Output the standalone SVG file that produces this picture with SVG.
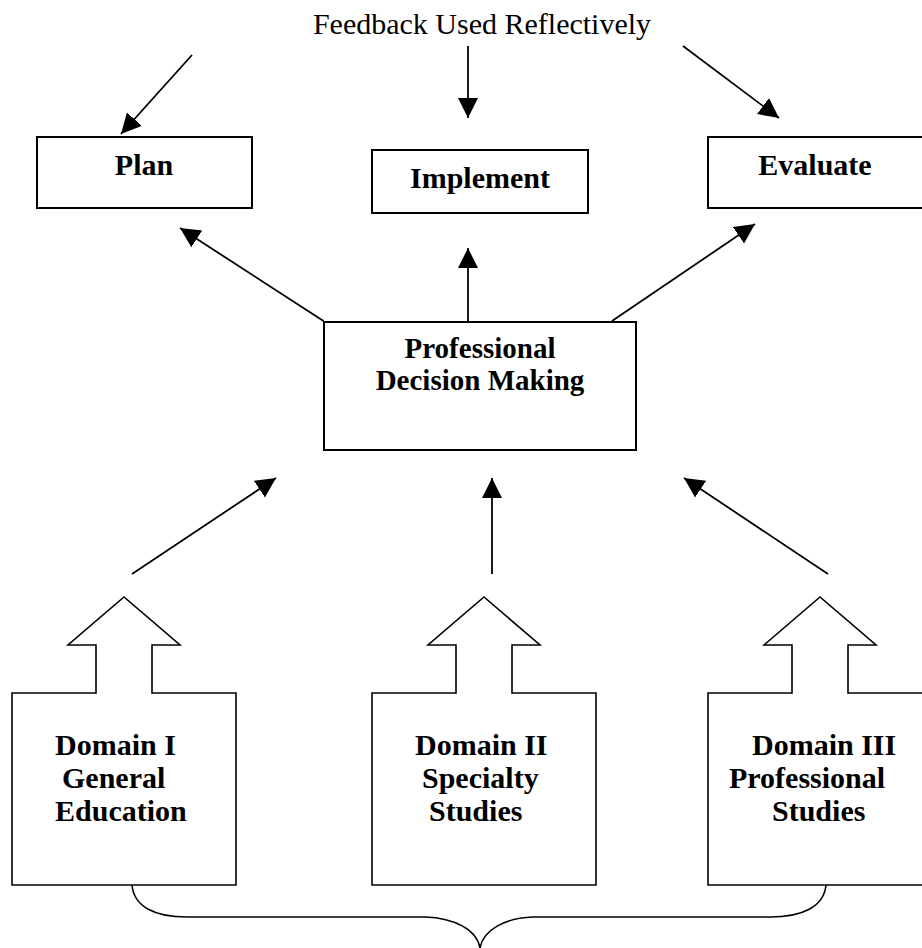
<svg xmlns="http://www.w3.org/2000/svg" width="922" height="948" viewBox="0 0 922 948">
<style>
.box{fill:#fff;stroke:#000;stroke-width:2}
.dom{fill:#fff;stroke:#000;stroke-width:1.6;stroke-linejoin:miter}
.ln{fill:none;stroke:#000;stroke-width:1.8}
.brace{fill:none;stroke:#000;stroke-width:1.6}
.t{font-family:"Liberation Serif","Times New Roman",serif;font-size:30px;fill:#000}
.b{font-family:"Liberation Serif","Times New Roman",serif;font-size:30px;font-weight:bold;fill:#000}
.m{text-anchor:middle}
</style>
<defs>
<marker id="ah" markerUnits="userSpaceOnUse" markerWidth="22" markerHeight="22" refX="20" refY="10" orient="auto">
<path d="M0,0 L20,10 L0,20 Z" fill="#000"/>
</marker>
</defs>
<rect width="922" height="948" fill="#fff"/>
<g id="title">
<text class="t m" x="482" y="34">Feedback Used Reflectively</text>
</g>
<g id="plan">
<rect class="box" x="37" y="137" width="215" height="71"/>
<text class="b m" x="144" y="175">Plan</text>
</g>
<g id="implement">
<rect class="box" x="372" y="150" width="216" height="63"/>
<text class="b m" x="480" y="188">Implement</text>
</g>
<g id="evaluate">
<rect class="box" x="708" y="137" width="216" height="71"/>
<text class="b m" x="815" y="175">Evaluate</text>
</g>
<g id="pdm">
<rect class="box" x="324" y="322" width="312" height="128"/>
<text class="b m" x="480" y="358" style="font-size:29px">Professional</text>
<text class="b m" x="480" y="390" style="font-size:29px">Decision Making</text>
</g>
<g id="domain1">
<path class="dom" d="M12,693 L96,693 L96,645 L68,645 L124,597 L180,645 L152,645 L152,693 L236,693 L236,885 L12,885 Z"/>
<text class="b" x="55" y="755">Domain I</text>
<text class="b" x="62" y="788">General</text>
<text class="b" x="55" y="821">Education</text>
</g>
<g id="domain2">
<path class="dom" d="M372,693 L456,693 L456,645 L428,645 L484,597 L540,645 L512,645 L512,693 L596,693 L596,885 L372,885 Z"/>
<text class="b" x="415" y="755">Domain II</text>
<text class="b" x="422" y="788">Specialty</text>
<text class="b" x="429" y="821">Studies</text>
</g>
<g id="domain3">
<path class="dom" d="M708,693 L792,693 L792,645 L764,645 L820,597 L876,645 L848,645 L848,693 L932,693 L932,885 L708,885 Z"/>
<text class="b" x="752" y="755">Domain III</text>
<text class="b" x="729" y="788">Professional</text>
<text class="b" x="772" y="821">Studies</text>
</g>
<g id="connectors">
<line class="ln" x1="192" y1="55" x2="121" y2="134" marker-end="url(#ah)"/>
<line class="ln" x1="468" y1="46" x2="468" y2="118" marker-end="url(#ah)"/>
<line class="ln" x1="683" y1="46" x2="779" y2="118" marker-end="url(#ah)"/>
<line class="ln" x1="323.5" y1="321" x2="180" y2="228" marker-end="url(#ah)"/>
<line class="ln" x1="468" y1="321" x2="468" y2="248" marker-end="url(#ah)"/>
<line class="ln" x1="612" y1="321" x2="755" y2="224" marker-end="url(#ah)"/>
<line class="ln" x1="132" y1="574" x2="276" y2="478" marker-end="url(#ah)"/>
<line class="ln" x1="492" y1="574" x2="492" y2="478" marker-end="url(#ah)"/>
<line class="ln" x1="828" y1="574" x2="684" y2="478" marker-end="url(#ah)"/>
<path class="brace" d="M132,885 C134,907 155,917 187,917 L425,917 C455,918 477,930 480,948 M480,948 C483,930 505,918 533,917 L770,917 C802,917 824,907 826,885"/>
</g>
</svg>
